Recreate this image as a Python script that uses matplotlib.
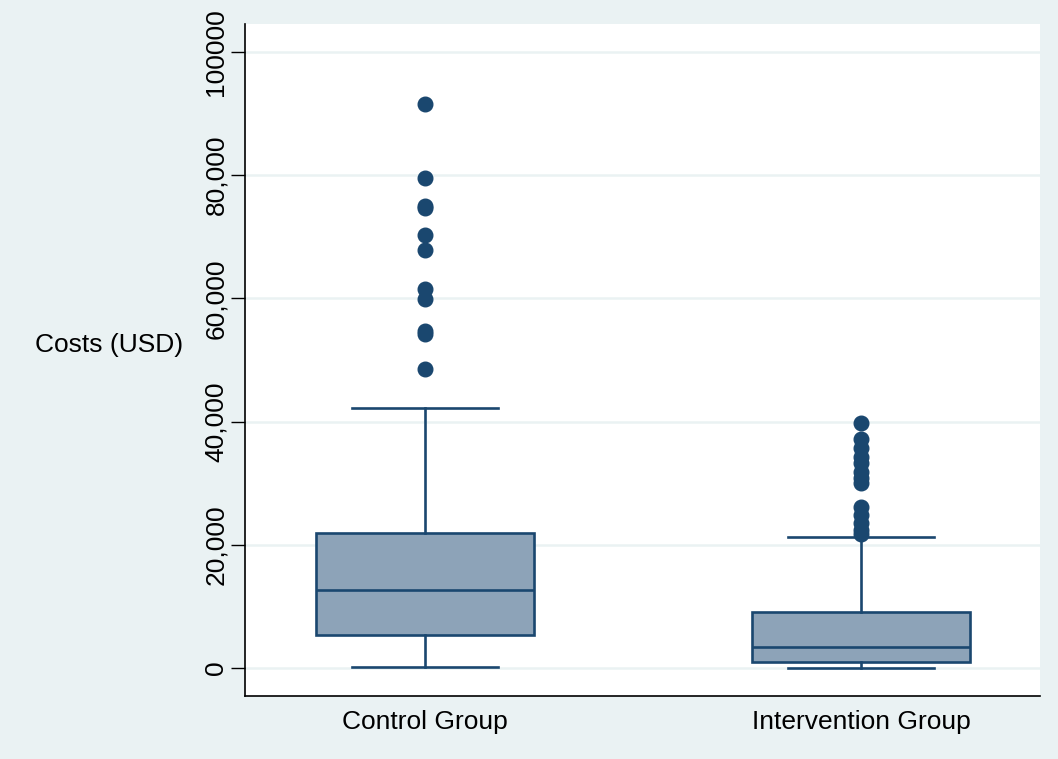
import matplotlib
matplotlib.use("Agg")
import matplotlib.pyplot as plt
from matplotlib.ticker import FixedLocator, FixedFormatter

# box summary values (USD)
groups = ["Control Group", "Intervention Group"]
q1 = [5350, 1050]
median = [12650, 3450]
q3 = [21850, 9150]
whisker_low = [100, 50]
whisker_high = [42200, 21200]

control_outliers = [91550, 79500, 75050, 74600, 70300, 67850,
                    61500, 59850, 54750, 54200, 48500]
intervention_outliers = [39700, 37150, 35650, 34300, 33250, 31850,
                         30850, 30000, 26200, 24850, 23500, 22400, 21700]

yticks = [0, 20000, 40000, 60000, 80000, 100000]
ytick_labels = ["0", "20,000", "40,000", "60,000", "80,000", "100000"]

navy = "#1A476F"
box_fill = "#8DA3B8"
bg = "#EAF2F3"

plt.rcParams["font.family"] = ["Liberation Sans", "DejaVu Sans"]

fig = plt.figure(figsize=(10.58, 7.59), dpi=100, facecolor=bg)
ax = fig.add_axes([0.2316, 0.083, 0.7514, 0.8854])
ax.set_facecolor("white")

stats = []
fliers = [control_outliers, intervention_outliers]
for i, name in enumerate(groups):
    stats.append({
        "label": name,
        "q1": q1[i],
        "med": median[i],
        "q3": q3[i],
        "whislo": whisker_low[i],
        "whishi": whisker_high[i],
        "fliers": fliers[i],
    })

ax.bxp(
    stats,
    positions=[0, 1],
    widths=0.5,
    capwidths=0.335,
    patch_artist=True,
    boxprops=dict(facecolor=box_fill, edgecolor=navy, linewidth=1.9),
    medianprops=dict(color=navy, linewidth=1.9),
    whiskerprops=dict(color=navy, linewidth=1.9),
    capprops=dict(color=navy, linewidth=1.9),
    flierprops=dict(marker="o", markerfacecolor=navy, markeredgecolor=navy,
                    markersize=10.5, linestyle="none"),
    zorder=3,
)

ax.set_xlim(-0.413, 1.41)
ax.set_ylim(-4545, 104545)

ax.yaxis.set_major_locator(FixedLocator(yticks))
ax.yaxis.set_major_formatter(FixedFormatter(ytick_labels))
ax.grid(axis="y", color=bg, linewidth=1.8, zorder=0)
ax.set_axisbelow(True)

for lab in ax.get_yticklabels():
    lab.set_rotation(90)
    lab.set_va("center")
ax.tick_params(axis="y", labelsize=19, length=10, width=1.0, pad=2)
ax.tick_params(axis="x", labelsize=19, length=0, pad=10)

for side in ["top", "right"]:
    ax.spines[side].set_visible(False)
for side in ["left", "bottom"]:
    ax.spines[side].set_linewidth(1.2)
    ax.spines[side].set_color("black")

ax.set_ylabel("Costs (USD)", rotation=0, fontsize=19, ha="right", va="center")
ax.yaxis.set_label_coords(-0.078, 0.522)

fig.savefig("out.png", dpi=100, facecolor=bg)
